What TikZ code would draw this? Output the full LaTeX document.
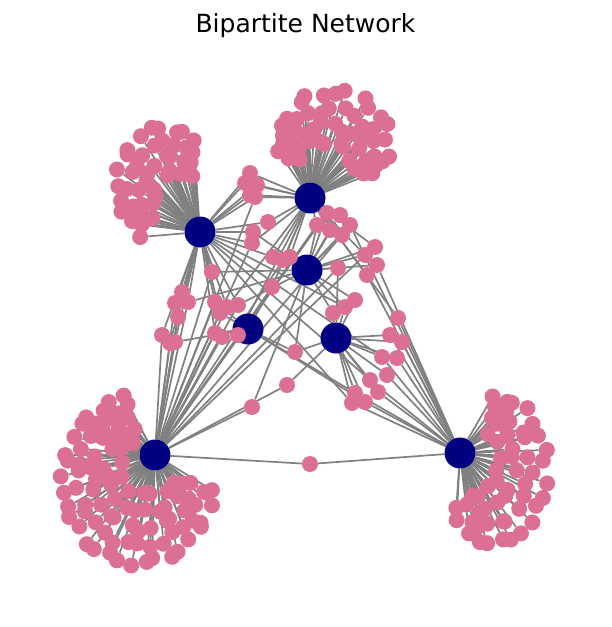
\documentclass[tikz,border=0pt]{standalone}
\usepackage{fontspec}
\newfontfamily\titlefont{DejaVu Sans}
\definecolor{pinkc}{RGB}{219,112,147}
\definecolor{hubc}{RGB}{0,0,128}
\definecolor{edgec}{RGB}{128,128,128}
\pgfdeclarelayer{edges}
\pgfsetlayers{edges,main}
\tikzset{
  pk/.style={circle,fill=pinkc,draw=none,minimum size=16pt,inner sep=0pt},
  hub/.style={circle,fill=hubc,draw=none,minimum size=31pt,inner sep=0pt},
  edge/.style={draw=edgec,line width=1.7pt}
}
% #1 prefix, #2 hub name, #3 hx, #4 hy, #5 cx, #6 cy, #7 a, #8 b, #9 rings f/n/phi0/phi1
\newcommand\mkcluster[9]{%
 \foreach \f/\n/\pa/\pb [count=\r] in {#9} {%
   \foreach \k in {1,...,\n} {%
     \pgfmathsetmacro\ph{\pa + (\k - 0.65 + 0.3*mod(\r,2) + 0.15*sin(\k*211+\r*37))*(\pb-\pa)/\n}%
     \pgfmathsetmacro\jx{3*sin(\k*137.5+\r*71)}%
     \pgfmathsetmacro\jy{3*cos(\k*97.3+\r*53)}%
     \pgfmathsetmacro\px{#3 + \f*(#5 + #7*cos(\ph) - #3) + \jx}%
     \pgfmathsetmacro\py{#4 + \f*(#6 - #8*sin(\ph) - #4) + \jy}%
     \node[pk] (#1-\r-\k) at (\px,\py) {};%
     \begin{pgfonlayer}{edges}\draw[edge] (#2) -- (#1-\r-\k);\end{pgfonlayer}%
   }%
 }%
}
\begin{document}
\begin{tikzpicture}[x=1pt,y=-1pt]
\useasboundingbox (0,0) rectangle (611,627);
\node[font=\titlefont\fontsize{25}{30}\selectfont] (title) at (305.5,26) {Bipartite Network};
% hubs
\node[hub] (A) at (200,232) {};
\node[hub] (B) at (310,198) {};
\node[hub] (C) at (307,270) {};
\node[hub] (D) at (248,329) {};
\node[hub] (E) at (336,338) {};
\node[hub] (F) at (155,455) {};
\node[hub] (G) at (460,453) {};
% clusters
\mkcluster{cf}{F}{155}{455}{138}{480}{75}{83}{1/27/95/355,0.84/23/97/353,0.68/19/100/350,0.53/15/105/345,0.38/9/110/340}
\mkcluster{ca}{A}{200}{232}{164}{185}{46}{57}{1/14/40/243,0.86/12/45/235,0.72/11/50/225,0.58/8/60/215}
\mkcluster{cb}{B}{310}{198}{334}{142}{54}{50}{1/17/-50/195,0.84/15/-40/190,0.69/13/-25/180,0.54/9/-5/170}
\mkcluster{cg}{G}{460}{453}{494}{470}{52}{73}{1/19/-140/95,0.81/16/-135/90,0.63/12/-125/80,0.46/8/-110/65}
% shared nodes
\foreach \x/\y [count=\i] in {250/173,245/183,257/185,250/195,255/197,268/222,253/232,252/243,
  212/272,272/287,215/302,227/307,238/305,220/313,182/292,188/302,175/303,178/317,162/335,175/342,
  170/343,215/333,222/337,238/335,295/352,287/385,252/407,310/464,273/257,283/260,290/257,317/225,
  327/213,340/215,350/225,342/235,330/230,338/268,375/247,365/255,377/265,367/275,355/300,345/307,
  333/313,398/318,390/335,402/342,382/357,397/358,370/380,387/375,378/392,355/393,352/403,365/402}
  {\node[pk] (m\i) at (\x,\y) {};}
\begin{pgfonlayer}{edges}
\foreach \i in {1,2,3,4,5,6,7,8,9,11,12,13,14,15,16,17,18,19,20,21,22,29,44,49,51,55} {\draw[edge] (A) -- (m\i);}
\foreach \i in {1,2,3,4,5,6,8,10,12,24,29,30,31,32,33,34,35,36,37,39,40,42,46} {\draw[edge] (B) -- (m\i);}
\foreach \i in {7,9,13,16,25,27,29,30,31,32,33,34,35,36,37,38,39,40,41,43,44,45} {\draw[edge] (C) -- (m\i);}
\foreach \i in {10,11,14,20,22,23,24,25,54,56} {\draw[edge] (D) -- (m\i);}
\foreach \i in {25,26,38,43,44,45,47,48,49,50,51,52,53,54,55,56} {\draw[edge] (E) -- (m\i);}
\foreach \i in {5,8,9,10,11,12,13,14,15,16,17,18,19,20,21,22,23,26,27,28,30,32,33,36,38,40} {\draw[edge] (F) -- (m\i);}
\foreach \i in {28,35,41,42,46,47,48,49,50,51,52,53,54,55,56} {\draw[edge] (G) -- (m\i);}
\end{pgfonlayer}
\end{tikzpicture}
\end{document}
